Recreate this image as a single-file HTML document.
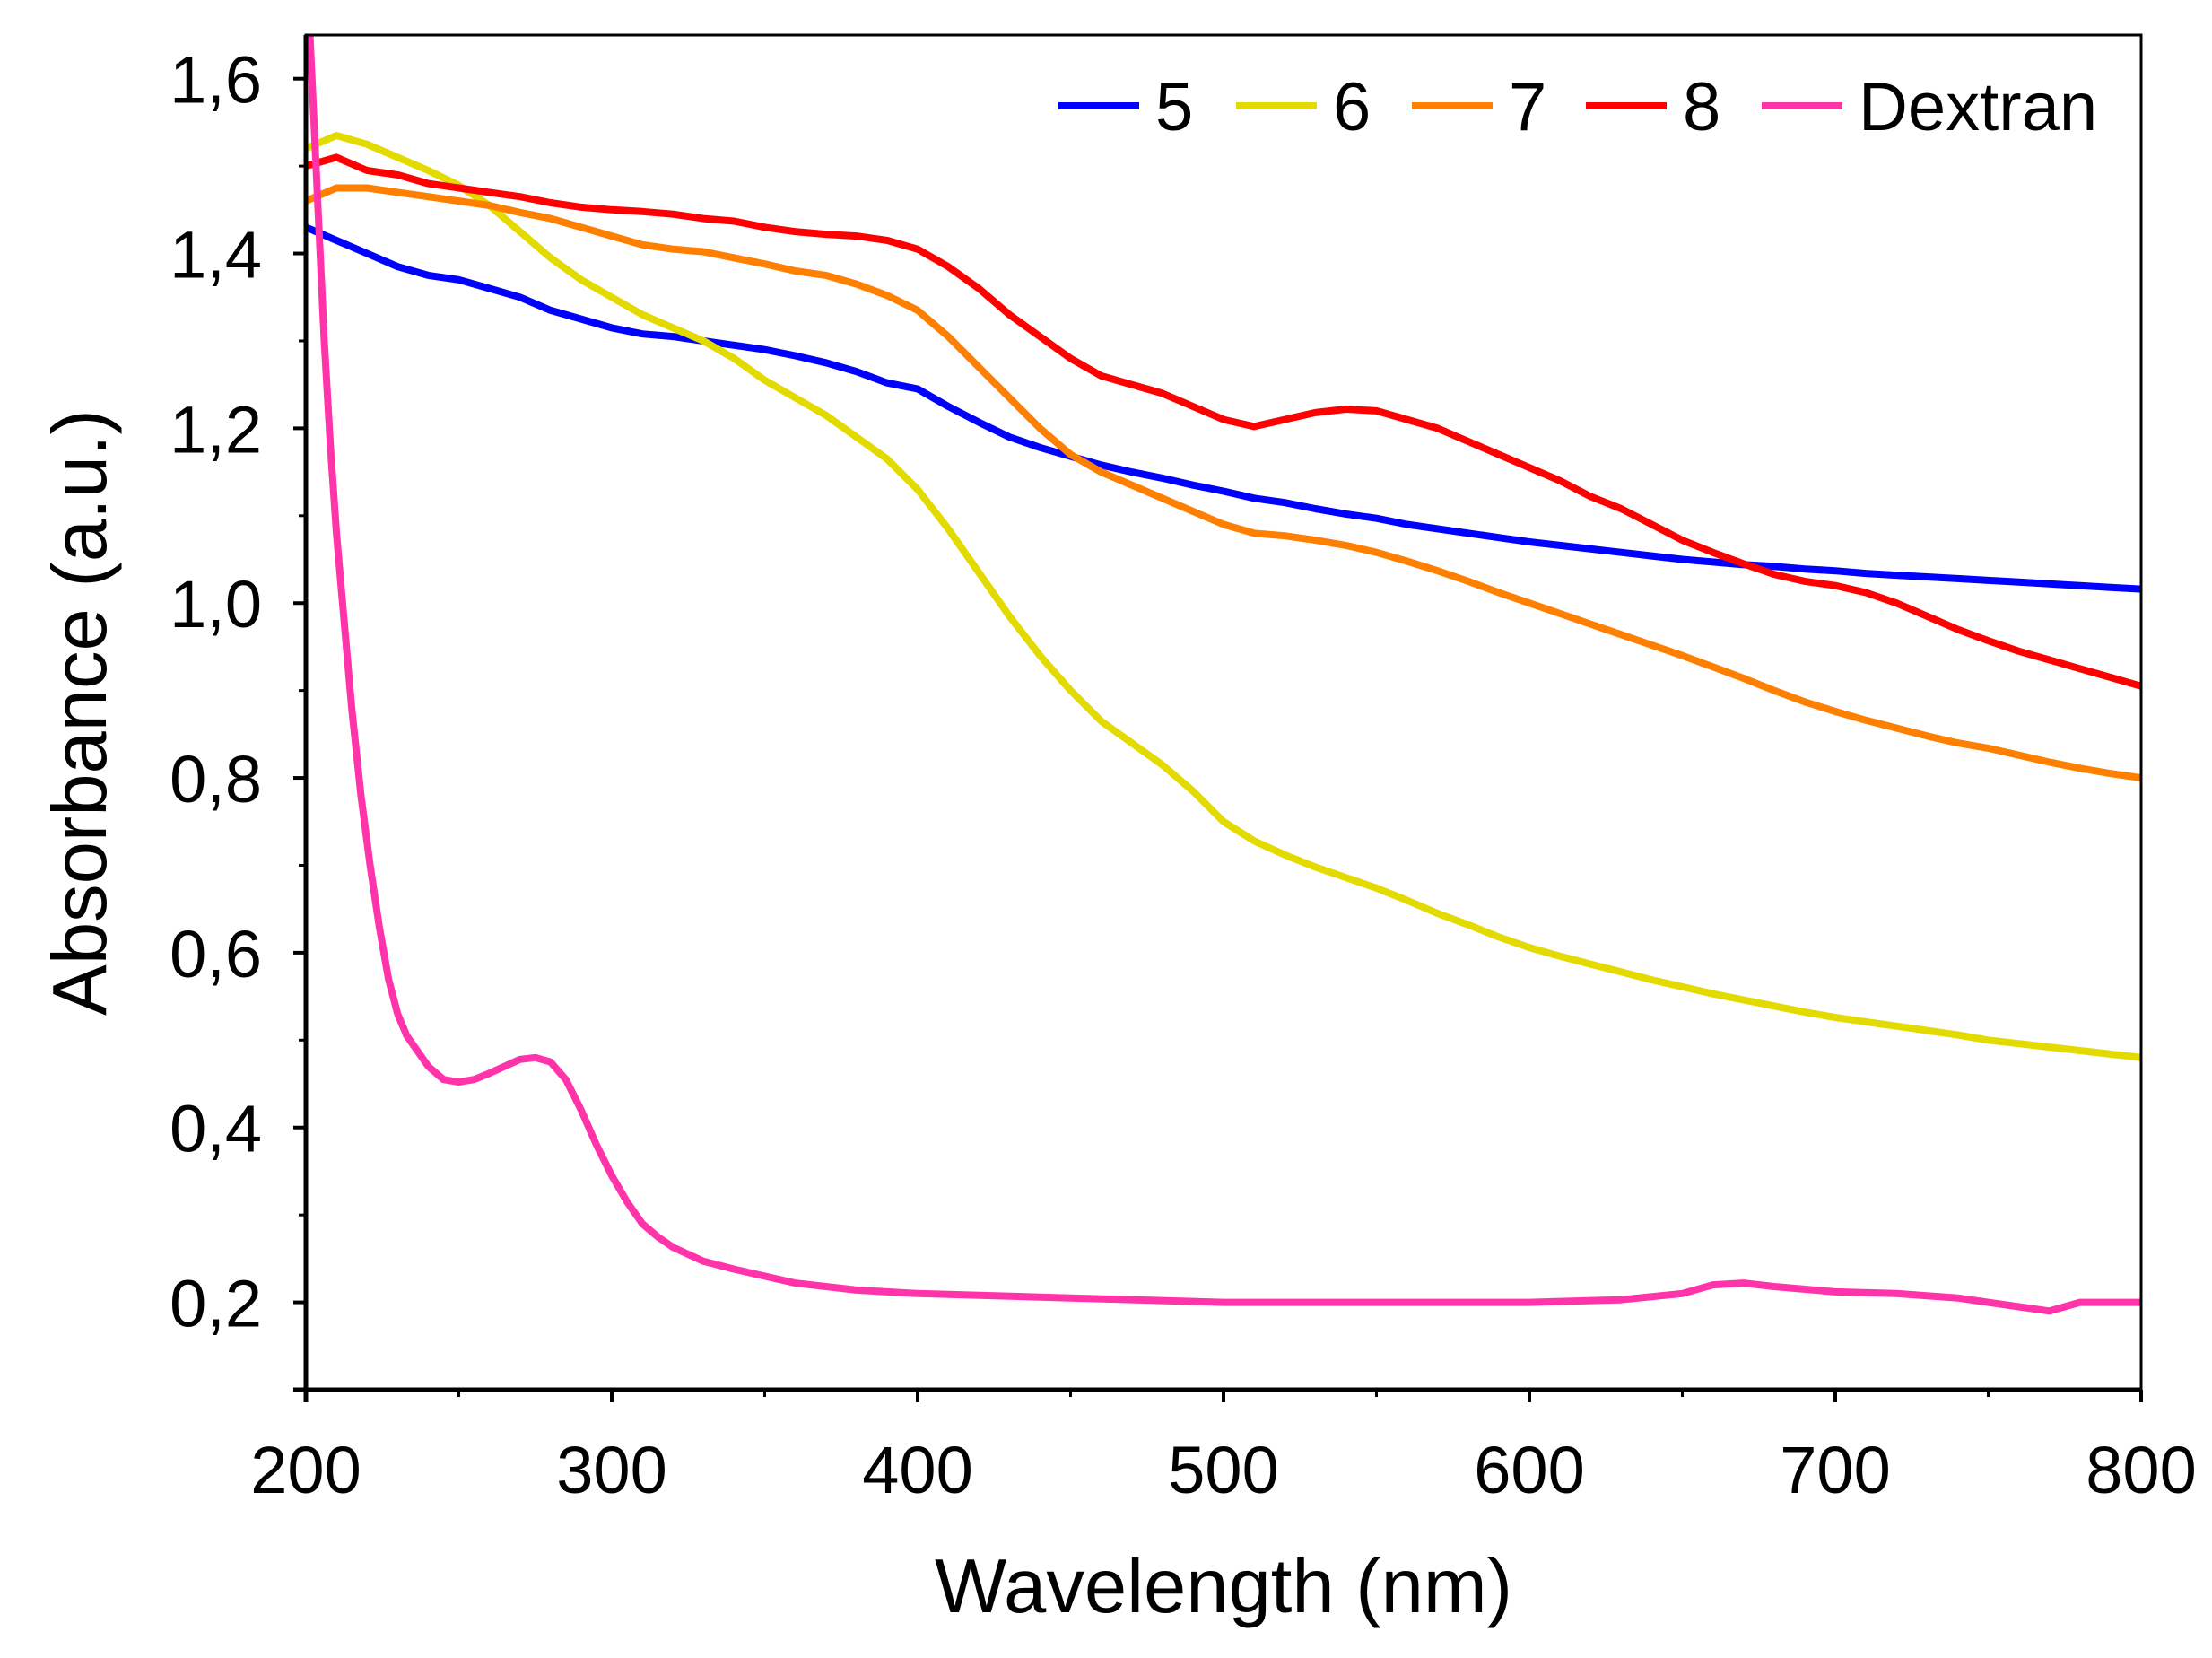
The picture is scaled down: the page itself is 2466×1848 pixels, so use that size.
<!DOCTYPE html>
<html><head><meta charset="utf-8"><style>
html,body{margin:0;padding:0;background:#fff;}
svg{display:block;}
text{font-family:"Liberation Sans",Arial,sans-serif;fill:#000;}
</style></head><body>
<svg id="chart" width="2466" height="1848" viewBox="0 0 2466 1848" xmlns="http://www.w3.org/2000/svg">
<defs><clipPath id="plotclip"><rect x="341" y="39" width="2046" height="1510"/></clipPath></defs>
<g id="series" clip-path="url(#plotclip)"></g>
<g id="axes"></g>
<g id="legend"></g>
<text x="1364" y="1797" font-size="85" text-anchor="middle">Wavelength (nm)</text>
<text x="0" y="0" font-size="85" text-anchor="middle" transform="translate(118,794) rotate(-90)">Absorbance (a.u.)</text>
</svg>
<script>
const wavelengths = [200,210,220,230,240,250,260,270,280,290,300,310,320,330,340,350,360,370,380,390,400,410,420,430,440,450,460,470,480,490,500,510,520,530,540,550,560,570,580,590,600,610,620,630,640,650,660,670,680,690,700,710,720,730,740,750,760,770,780,790,800];
const s5 = [1.43,1.415,1.40,1.385,1.375,1.37,1.36,1.35,1.335,1.325,1.315,1.308,1.305,1.30,1.295,1.29,1.283,1.275,1.265,1.252,1.245,1.225,1.207,1.19,1.178,1.168,1.158,1.15,1.143,1.135,1.128,1.12,1.115,1.108,1.102,1.097,1.09,1.085,1.08,1.075,1.07,1.066,1.062,1.058,1.054,1.05,1.047,1.044,1.042,1.039,1.037,1.034,1.032,1.03,1.028,1.026,1.024,1.022,1.02,1.018,1.016];
const s6 = [1.52,1.535,1.525,1.51,1.495,1.478,1.455,1.425,1.395,1.37,1.35,1.33,1.315,1.30,1.28,1.255,1.235,1.215,1.19,1.165,1.13,1.085,1.035,0.985,0.94,0.90,0.865,0.84,0.815,0.785,0.75,0.728,0.712,0.698,0.686,0.674,0.66,0.645,0.632,0.618,0.606,0.596,0.587,0.578,0.569,0.561,0.553,0.546,0.539,0.532,0.526,0.521,0.516,0.511,0.506,0.50,0.496,0.492,0.488,0.484,0.48];
const s7 = [1.46,1.475,1.475,1.47,1.465,1.46,1.455,1.447,1.44,1.43,1.42,1.41,1.405,1.402,1.395,1.388,1.38,1.375,1.365,1.352,1.335,1.305,1.27,1.235,1.2,1.17,1.15,1.135,1.12,1.105,1.09,1.08,1.077,1.072,1.066,1.058,1.048,1.037,1.025,1.012,1.0,0.988,0.976,0.964,0.952,0.94,0.927,0.914,0.90,0.887,0.876,0.866,0.857,0.848,0.84,0.834,0.826,0.818,0.811,0.805,0.80];
const s8 = [1.50,1.51,1.495,1.49,1.48,1.475,1.47,1.465,1.458,1.453,1.45,1.448,1.445,1.44,1.437,1.43,1.425,1.422,1.42,1.415,1.405,1.385,1.36,1.33,1.305,1.28,1.26,1.25,1.24,1.225,1.21,1.202,1.21,1.218,1.222,1.22,1.21,1.20,1.185,1.17,1.155,1.14,1.122,1.108,1.09,1.072,1.058,1.045,1.033,1.025,1.02,1.012,1.0,0.985,0.97,0.957,0.945,0.935,0.925,0.915,0.905];
const dexX = [200,202,204,206,208,210,212,215,218,221,224,227,230,233,236,240,245,250,255,260,265,270,275,280,285,290,295,300,305,310,315,320,330,340,350,360,370,380,400,450,500,550,600,630,650,660,670,680,700,720,740,760,770,780,800];
const dexY = [1.75,1.6,1.45,1.3,1.18,1.08,1.0,0.88,0.78,0.70,0.63,0.57,0.53,0.505,0.49,0.47,0.455,0.452,0.455,0.462,0.47,0.478,0.48,0.475,0.455,0.42,0.38,0.345,0.315,0.29,0.275,0.263,0.247,0.238,0.23,0.222,0.218,0.214,0.21,0.205,0.20,0.20,0.20,0.203,0.21,0.22,0.222,0.218,0.212,0.21,0.205,0.195,0.19,0.20,0.20];
const seriesNames = ["5","6","7","8","Dextran"];
const seriesColors = ["#0000ff","#e3da00","#ff7f00","#ff0000","#ff33aa"];
const xTicks = [200,300,400,500,600,700,800];
const yTicks = [0.2,0.4,0.6,0.8,1.0,1.2,1.4,1.6];
const yTickLabels = ["0,2","0,4","0,6","0,8","1,0","1,2","1,4","1,6"];

const L=341,R=2387,T=39,B=1549, XMIN=200,XMAX=800, YMIN=0.1,YMAX=1.65;
const sx=v=>L+(v-XMIN)/(XMAX-XMIN)*(R-L);
const sy=v=>B-(v-YMIN)/(YMAX-YMIN)*(B-T);
const NS="http://www.w3.org/2000/svg";
function mk(tag,attrs,parent){const e=document.createElementNS(NS,tag);for(const k in attrs)e.setAttribute(k,attrs[k]);parent.appendChild(e);return e;}

const sg=document.getElementById('series');
const allX=[wavelengths,wavelengths,wavelengths,wavelengths,dexX];
const allY=[s5,s6,s7,s8,dexY];
[0,1,2,3,4].forEach(i=>{
  const d=allX[i].map((x,j)=>(j?'L':'M')+sx(x).toFixed(1)+','+sy(allY[i][j]).toFixed(1)).join(' ');
  const p=mk('path',{d:d,fill:'none',stroke:seriesColors[i],'stroke-width':8,'stroke-linejoin':'round'},sg);
  
  
});

const ax=document.getElementById('axes');
const frame=mk('rect',{x:L,y:T,width:R-L,height:B-T,fill:'none',stroke:'#000','stroke-width':3},ax);


const yl=mk('line',{x1:L,y1:T,x2:L,y2:B+14,stroke:'#000','stroke-width':5},ax);


const xl=mk('line',{x1:L-14,y1:B,x2:R,y2:B,stroke:'#000','stroke-width':5},ax);


for(let v=250;v<800;v+=100){
  const t=mk('line',{x1:sx(v),y1:B,x2:sx(v),y2:B+8,stroke:'#000','stroke-width':3},ax);
  
  
}
xTicks.forEach(v=>{
  const t=mk('line',{x1:sx(v),y1:B,x2:sx(v),y2:B+14,stroke:'#000','stroke-width':4},ax);
  
  
  const tx=mk('text',{x:sx(v),y:1664,'font-size':74,'text-anchor':'middle'},ax);
  tx.textContent=v;
  
  
});
[0.3,0.5,0.7,0.9,1.1,1.3,1.5,0.1].forEach(v=>{
  const t=mk('line',{x1:L-8,y1:sy(v),x2:L,y2:sy(v),stroke:'#000','stroke-width':3},ax);
  
  
});
yTicks.forEach((v,i)=>{
  const t=mk('line',{x1:L-14,y1:sy(v),x2:L,y2:sy(v),stroke:'#000','stroke-width':4},ax);
  
  
  const tx=mk('text',{x:292,y:sy(v)+27,'font-size':74,'text-anchor':'end'},ax);
  tx.textContent=yTickLabels[i];
  
  
});

const lg=document.getElementById('legend');
const lx=[1180,1378,1574,1768,1964];
seriesNames.forEach((n,i)=>{
  const g=mk('g',{},lg);
  
  
  mk('line',{x1:lx[i],y1:118,x2:lx[i]+90,y2:118,stroke:seriesColors[i],'stroke-width':8},g);
  const t=mk('text',{x:lx[i]+108,y:145,'font-size':76},g);
  t.textContent=n;
});
</script>
</body></html>
